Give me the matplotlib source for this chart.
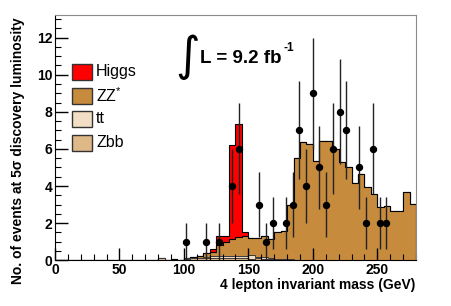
import numpy as np
import matplotlib
matplotlib.use("Agg")
import matplotlib.pyplot as plt
from matplotlib.patches import Rectangle

plt.rcParams['font.family'] = ['Liberation Sans', 'DejaVu Sans']
plt.rcParams['mathtext.fontset'] = 'custom'
plt.rcParams['mathtext.rm'] = 'Liberation Sans'
plt.rcParams['mathtext.bf'] = 'Liberation Sans:bold'

# 5 GeV bins from 0 to 280 (56 bins)
bin_edges = np.arange(0, 285, 5)

# Zbb (bottom of stack)
zbb = [0]*13 + [0.02, 0, 0.02, 0.10, 0.02, 0.04, 0.02,
                0.08, 0.10, 0.10, 0.12, 0.12, 0.12, 0.15, 0.10, 0.12, 0.15,
                0.08, 0.10, 0.06, 0.05, 0.03, 0.02, 0.02] + [0.01]*19
# ttbar
tt = [0]*20 + [0.03, 0.04, 0.05, 0.08, 0.10, 0.12, 0.10, 0.15, 0.12, 0.10,
               0.22, 0.10, 0.12, 0.06, 0.05, 0.04, 0.03, 0.02] + [0.02]*18
# ZZ*
zz = [0]*17 + [0.01, 0.01, 0.01,
               0.03, 0.03, 0.10, 0.18, 0.23, 0.61, 0.72, 0.88, 1.03, 1.05,
               0.92, 0.99, 1.13, 1.02, 1.42, 1.52, 2.93, 5.47, 6.37, 6.24,
               5.34, 6.42, 6.42, 5.95, 5.29, 4.98, 4.12, 4.61, 3.94, 3.53,
               2.83, 2.90, 2.63, 2.63, 3.67, 2.99]
# Higgs signal
higgs = [0]*24 + [0.15, 0.45, 0.33, 5.07, 6.08, 0.20] + [0]*26

# pseudo-data points
data_x = [101.5, 117, 127.5, 137.5, 143, 158.5, 163.5, 169, 179, 184.5, 189.5,
          195, 200, 205, 210.5, 215.5, 221, 226, 236, 241.5, 247, 252, 257]
data_y = [1, 1, 1, 4, 6, 3, 1, 2, 2, 3, 7, 4, 9, 5, 3, 6, 8, 7, 5, 2, 6, 2, 2]

legend_labels = ['Higgs', 'ZZ$^{*}$', 'tt', 'Zbb']
c_higgs = '#ff0000'
c_zz = '#c68b3d'
c_tt = '#f1dec4'
c_zbb = '#deb887'

fig = plt.figure(figsize=(4.51, 3.06), dpi=100)
ax = fig.add_axes([55/451, 45.7/306, 361/451, 245/306])

s_zbb = np.array(zbb)
s_tt = s_zbb + np.array(tt)
s_zz = s_tt + np.array(zz)
s_h = s_zz + np.array(higgs)

ax.stairs(s_h, bin_edges, fill=True, facecolor=c_higgs, edgecolor='black', lw=0.8)
ax.stairs(s_zz, bin_edges, fill=True, facecolor=c_zz, edgecolor='black', lw=0.8)
ax.stairs(s_tt, bin_edges, fill=True, facecolor=c_tt, edgecolor='#3a3a3a', lw=0.7)
ax.stairs(s_zbb, bin_edges, fill=True, facecolor=c_zbb, edgecolor='#3a3a3a', lw=0.7)

ax.errorbar(data_x, data_y, yerr=np.sqrt(data_y), fmt='o', color='black',
            ms=4.3, elinewidth=1, ecolor='#222222', capsize=0, zorder=5)

ax.set_xlim(0, 280)
ax.set_ylim(0, 13.2)
ax.set_xticks(np.arange(0, 251, 50))
ax.set_xticks(np.arange(0, 281, 10), minor=True)
ax.set_yticks(np.arange(0, 13, 2))
ax.set_yticks(np.arange(0, 13.2, 0.5), minor=True)
ax.tick_params(which='both', direction='in', top=False, right=False,
               labelsize=10, pad=2)
ax.tick_params(which='major', length=9, width=1)
ax.tick_params(which='minor', length=4.5, width=0.8)
for lab in ax.get_xticklabels() + ax.get_yticklabels():
    lab.set_fontweight('bold')
for sp in ['top', 'right']:
    ax.spines[sp].set_color('#8c8c8c')
ax.spines['left'].set_color('black')
ax.spines['bottom'].set_color('black')

# legend drawn by hand
leg_y = [0.769, 0.671, 0.577, 0.479]
leg_c = [c_higgs, c_zz, c_tt, c_zbb]
for lab, yy, cc in zip(legend_labels, leg_y, leg_c):
    ax.add_patch(Rectangle((0.047, yy - 0.0325), 0.055, 0.065, transform=ax.transAxes,
                           facecolor=cc, edgecolor='#333333', lw=1, clip_on=False))
    ax.text(0.114, yy, lab, transform=ax.transAxes, fontsize=11.5,
            ha='left', va='center')

# luminosity label
ax.text(0.368, 0.83, '\u222b', transform=ax.transAxes, family='DejaVu Sans',
        fontsize=34, ha='center', va='center')
ax.text(0.402, 0.805, 'L = 9.2 fb', transform=ax.transAxes,
        fontsize=13.5, fontweight='bold', ha='left', va='baseline')
ax.text(0.632, 0.855, '-1', transform=ax.transAxes,
        fontsize=8.5, fontweight='bold', ha='left', va='baseline')

fig.text(18/451, 1 - 17/306, 'No. of events at 5\u03c3 discovery luminosity',
         rotation=90, ha='center', va='top', fontsize=10, fontweight='bold')
fig.text(415/451, 21/306, '4 lepton invariant mass (GeV)',
         ha='right', va='center', fontsize=10, fontweight='bold')

fig.savefig('out.png', dpi=100)
